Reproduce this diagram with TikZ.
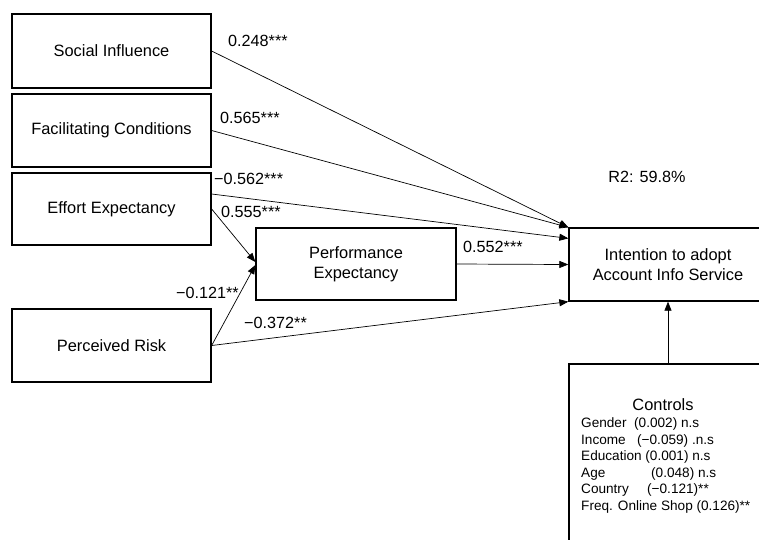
\documentclass[tikz,border=0pt]{standalone}
\usepackage{fontspec}
\setmainfont{Liberation Sans}
\usetikzlibrary{arrows.meta}
\begin{document}
\begin{tikzpicture}[x=1pt,y=-1pt,
  box/.style={draw,line width=1.3pt,rectangle,inner sep=0pt,align=center,
    font=\fontsize{16.4}{20}\selectfont},
  conn/.style={line width=0.7pt,-{Triangle[length=9pt,width=7pt]}},
  lbl/.style={anchor=west,inner sep=0pt,font=\fontsize{16.2}{19}\selectfont},
  ctl/.style={anchor=west,inner sep=0pt,font=\fontsize{13.6}{16}\selectfont}]
\useasboundingbox (0,0) rectangle (759,539);
\clip (0,0) rectangle (759,539);
\fill[white] (0,0) rectangle (759,539);

\node[box,minimum width=199pt,minimum height=74pt] (si) at (111.5,51) {Social Influence};
\node[box,minimum width=199pt,minimum height=73pt] (fc) at (111.5,130.5) {Facilitating Conditions};
\node[box,minimum width=199pt,minimum height=72pt] (ee) at (111.5,209) {Effort Expectancy};
\node[box,minimum width=199pt,minimum height=73pt] (pr) at (111.5,345.5) {Perceived Risk};
\node[box,minimum width=200pt,minimum height=72pt] (pe) at (356,264) {Performance\\Expectancy};
\node[box,minimum width=198pt,minimum height=73pt] (int) at (668,264.5) {Intention to adopt\\Account Info Service};
\node[box,minimum width=198pt,minimum height=200pt] (ctrl) at (668,464) {};

\node[anchor=center,inner sep=0pt,font=\fontsize{16.4}{20}\selectfont] (ctitle) at (663,405) {Controls};
\node[ctl] (c1) at (581,424) {\makebox[53pt][l]{Gender}(0.002) n.s};
\node[ctl] (c2) at (581,440.5) {\makebox[56pt][l]{Income}(−0.059) .n.s};
\node[ctl] (c3) at (581,457) {Education (0.001) n.s};
\node[ctl] (c4) at (581,473.5) {\makebox[70pt][l]{Age}(0.048) n.s};
\node[ctl] (c5) at (581,490) {\makebox[66pt][l]{Country}(−0.121)**};
\node[ctl] (c6) at (581,506.5) {Freq. Online Shop (0.126)**};

\draw[conn] (si.east) -- (int.north west);
\draw[conn] (fc.east) -- (int.north west);
\draw[conn] ([yshift=15pt]ee.east) -- ([yshift=-11pt]int.north west);
\draw[conn] (ee.east) -- ([yshift=2pt]pe.west);
\draw[conn] (pr.east) -- ([yshift=-1pt]pe.west);
\draw[conn] (pe.east) -- (int.west);
\draw[conn] (pr.east) -- (int.south west);
\draw[conn] (ctrl.north) -- (int.south);

\node[lbl] (l248) at (228,41) {0.248***};
\node[lbl] (l565) at (220,118) {0.565***};
\node[lbl] (l562) at (214,179) {−0.562***};
\node[lbl] (l555) at (221,212) {0.555***};
\node[lbl] (l552) at (463,247) {0.552***};
\node[lbl] (l121) at (176,293) {−0.121**};
\node[lbl] (l372) at (244,323) {−0.372**};
\node[anchor=center,inner sep=0pt,font=\fontsize{16.2}{19}\selectfont] (r2) at (647,177) {R2: 59.8\%};
\end{tikzpicture}
\end{document}
